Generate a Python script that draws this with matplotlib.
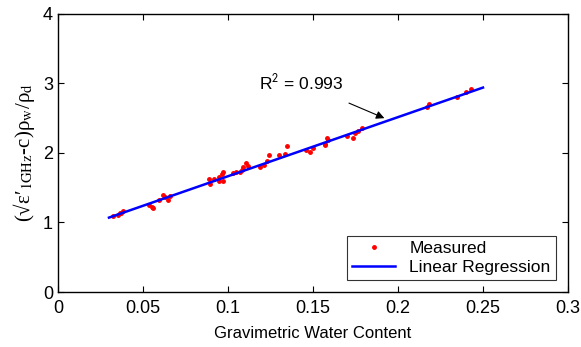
import numpy as np
import matplotlib.pyplot as plt

plt.rcParams['font.family'] = ['Liberation Sans', 'DejaVu Sans']
plt.rcParams['mathtext.fontset'] = 'stix'

# measured points (gravimetric water content, normalized permittivity term)
wc = [0.0324, 0.0355, 0.0365, 0.037, 0.038, 0.0537, 0.0553, 0.056, 0.0597, 0.062,
      0.063, 0.065, 0.066, 0.0894, 0.089, 0.092, 0.095, 0.0965, 0.097, 0.095,
      0.097, 0.103, 0.105, 0.107, 0.108, 0.109, 0.1105, 0.112, 0.119, 0.121,
      0.123, 0.124, 0.130, 0.1335, 0.1347, 0.146, 0.148, 0.150, 0.157, 0.157,
      0.158, 0.159, 0.170, 0.1735, 0.175, 0.1765, 0.179, 0.217, 0.218, 0.235,
      0.240, 0.243]
val = [1.09, 1.11, 1.13, 1.14, 1.17, 1.25, 1.22, 1.21, 1.33, 1.39,
       1.37, 1.33, 1.38, 1.56, 1.62, 1.63, 1.66, 1.69, 1.72, 1.60,
       1.60, 1.71, 1.72, 1.72, 1.76, 1.80, 1.86, 1.81, 1.80, 1.83,
       1.89, 1.97, 1.97, 1.99, 2.10, 2.04, 2.01, 2.07, 2.11, 2.13,
       2.21, 2.18, 2.24, 2.21, 2.28, 2.31, 2.36, 2.66, 2.71, 2.80,
       2.88, 2.92]

# regression line end points
fit_x = [0.03, 0.25]
fit_y = [1.07, 2.94]

fig = plt.figure(figsize=(5.81, 3.47), dpi=100)
ax = fig.add_axes([0.0998, 0.1585, 0.8778, 0.8015])

ax.plot(wc, val, '.', color='red', markersize=5, label='Measured')
ax.plot(fit_x, fit_y, '-', color='blue', linewidth=1.8, label='Linear Regression')

ax.set_xlim(0, 0.3)
ax.set_ylim(0, 4)
ax.set_xticks([0, 0.05, 0.1, 0.15, 0.2, 0.25, 0.3])
ax.set_xticklabels(['0', '0.05', '0.1', '0.15', '0.2', '0.25', '0.3'])
ax.set_yticks([0, 1, 2, 3, 4])
ax.tick_params(direction='in', labelsize=13, length=4, top=True, right=True)
ax.tick_params(axis='x', pad=6)
for s in ax.spines.values():
    s.set_linewidth(1.0)

ax.set_xlabel('Gravimetric Water Content', fontsize=12, labelpad=6)
ax.set_ylabel(r"(√ε′$_{\mathrm{1GHz}}$-c)ρ$_{\mathrm{w}}$/ρ$_{\mathrm{d}}$",
              fontsize=15, family=['Liberation Serif', 'DejaVu Serif'], labelpad=4)

ax.annotate(r'R$^{\mathsf{2}}$ = 0.993', xy=(0.192, 2.50), xytext=(0.143, 3.01),
            fontsize=12.5, ha='center', va='center',
            arrowprops=dict(arrowstyle='-|>', color='black', lw=0.8,
                            shrinkA=14, shrinkB=0, mutation_scale=12))

leg = ax.legend(loc='lower right', fontsize=12.5, frameon=True, fancybox=False,
                edgecolor='black', borderaxespad=0.7, handlelength=2.5,
                borderpad=0.3, labelspacing=0.2)
leg.get_frame().set_linewidth(0.8)

fig.savefig('out.png', dpi=100)
